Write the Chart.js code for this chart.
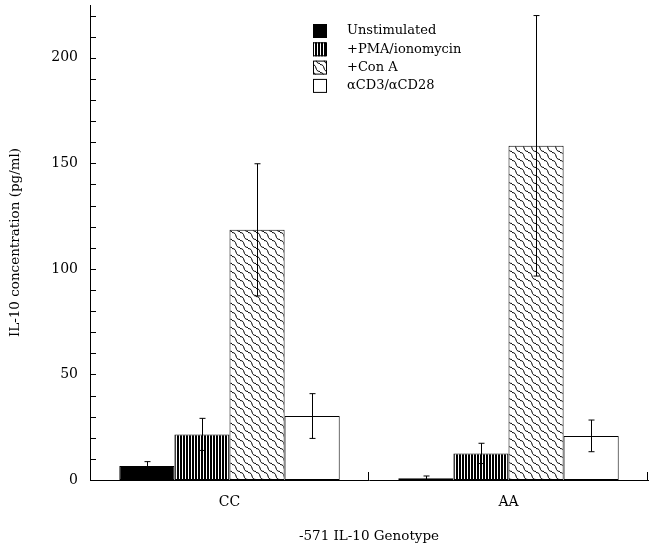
<!DOCTYPE html>
<html>
<head>
<meta charset="utf-8">
<script src="https://cdn.jsdelivr.net/npm/chart.js@4/dist/chart.umd.min.js"></script>
<style>
	body { margin: 0; background: #fff; }
</style>
</head>
<body>
<canvas id="il10-chart" width="653" height="549"></canvas>
<script>
var categories = ['CC', 'AA'];
var seriesNames = ['Unstimulated', '+PMA/ionomycin', '+Con A', '\u03b1CD3/\u03b1CD28'];

var unstimulated = [6.6, 0.8];
var unstimulatedErr = [2.1, 1.1];
var pmaIono = [21.6, 12.6];
var pmaIonoErr = [7.6, 4.8];
var conA = [118.5, 158.3];
var conAErr = [31.3, 61.7];
var cd3cd28 = [30.3, 20.9];
var cd3cd28Err = [10.6, 7.5];

var yTickLabels = [0, 50, 100, 150, 200];
var yMinorStep = 10;
var yMax = 225;

var FONT = "'DejaVu Serif', serif";

function makePattern(w, h, draw) {
	var c = document.createElement('canvas');
	c.width = w;
	c.height = h;
	var g = c.getContext('2d');
	g.fillStyle = '#fff';
	g.fillRect(0, 0, w, h);
	draw(g);
	return document.getElementById('il10-chart').getContext('2d').createPattern(c, 'repeat');
}

// vertical stripes, ~3px period
var stripes = makePattern(3, 3, function (g) {
	g.fillStyle = '#000';
	g.fillRect(0, 0, 2, 3);
});

// wavy "scale" hatch
var scales = makePattern(8, 8, function (g) {
	g.strokeStyle = '#000';
	g.lineWidth = 1;
	[-8, 0, 8].forEach(function (dx) {
		g.beginPath();
		g.moveTo(dx, 0.5);
		g.bezierCurveTo(dx + 6, 0.5, dx + 2, 7.5, dx + 8, 7.5);
		g.stroke();
	});
});

function mkSet(label, data, err, fill) {
	return {
		label: label,
		data: data,
		errors: err,
		backgroundColor: fill,
		borderColor: '#000',
		borderWidth: 1,
		borderSkipped: false,
		categoryPercentage: 0.79,
		barPercentage: 1.0
	};
}

var errorBars = {
	id: 'errorBars',
	afterDatasetsDraw: function (chart) {
		var ctx = chart.ctx,
			y = chart.scales.y;
		ctx.save();
		ctx.strokeStyle = '#000';
		ctx.lineWidth = 1;
		chart.data.datasets.forEach(function (ds, i) {
			var meta = chart.getDatasetMeta(i);
			meta.data.forEach(function (bar, j) {
				var v = ds.data[j],
					e = ds.errors[j],
					x = Math.round(bar.x) + 0.5,
					top = y.getPixelForValue(v + e),
					bot = y.getPixelForValue(Math.max(v - e, 0));
				ctx.beginPath();
				ctx.moveTo(x, top);
				ctx.lineTo(x, bot);
				ctx.moveTo(x - 3, top);
				ctx.lineTo(x + 3, top);
				ctx.moveTo(x - 3, bot);
				ctx.lineTo(x + 3, bot);
				ctx.stroke();
			});
		});
		ctx.restore();
	}
};

var axisTicks = {
	id: 'axisTicks',
	afterDraw: function (chart) {
		var ctx = chart.ctx,
			area = chart.chartArea,
			x = chart.scales.x,
			y = chart.scales.y;
		ctx.save();
		ctx.strokeStyle = '#000';
		ctx.lineWidth = 1;
		ctx.beginPath();
		for (var v = 0; v <= yMax; v += yMinorStep) {
			var py = Math.round(y.getPixelForValue(v)) + 0.5;
			ctx.moveTo(area.left, py);
			ctx.lineTo(area.left + 6, py);
		}
		var step = x.getPixelForValue(1) - x.getPixelForValue(0);
		for (var k = 0; k < categories.length; k++) {
			var px = Math.round(x.getPixelForValue(k) + step / 2) - 0.5;
			ctx.moveTo(px, area.bottom);
			ctx.lineTo(px, area.bottom - 8);
		}
		ctx.stroke();
		ctx.restore();
	}
};

var boxLegend = {
	id: 'boxLegend',
	afterDraw: function (chart) {
		var ctx = chart.ctx;
		ctx.save();
		ctx.font = '13px ' + FONT;
		ctx.textBaseline = 'middle';
		chart.data.datasets.forEach(function (ds, i) {
			var cy = 31 + i * 18.3;
			ctx.fillStyle = ds.backgroundColor;
			ctx.fillRect(313, cy - 7, 14, 14);
			ctx.strokeStyle = '#000';
			ctx.lineWidth = 1;
			ctx.strokeRect(313.5, cy - 6.5, 13, 13);
			ctx.fillStyle = '#000';
			ctx.fillText(ds.label, 347, cy);
		});
		ctx.restore();
	}
};

var ctxB = document.getElementById('il10-chart').getContext('2d');
var myBarChart = new Chart(ctxB, {
	type: 'bar',
	data: {
		labels: categories,
		datasets: [
			mkSet(seriesNames[0], unstimulated, unstimulatedErr, '#000'),
			mkSet(seriesNames[1], pmaIono, pmaIonoErr, stripes),
			mkSet(seriesNames[2], conA, conAErr, scales),
			mkSet(seriesNames[3], cd3cd28, cd3cd28Err, '#fff')
		]
	},
	plugins: [errorBars, axisTicks, boxLegend],
	options: {
		responsive: false,
		animation: false,
		layout: { padding: { top: 5, right: 5, left: 0, bottom: 0 } },
		plugins: {
			legend: { display: false },
			tooltip: { enabled: false }
		},
		scales: {
			x: {
				grid: { display: false, drawTicks: false },
				border: { display: true, color: '#000', width: 1 },
				ticks: { color: '#000', font: { family: FONT, size: 14 }, padding: 14 },
				title: {
					display: true,
					text: '-571 IL-10 Genotype',
					color: '#000',
					font: { family: FONT, size: 13.5 },
					padding: { top: 0, bottom: 4 }
				},
				afterFit: function (scale) {
					scale.height = 69;
					scale.paddingLeft = 0;
					scale.paddingRight = 0;
				}
			},
			y: {
				min: 0,
				max: yMax,
				grid: { display: false, drawTicks: false },
				border: { display: true, color: '#000', width: 1 },
				afterBuildTicks: function (scale) {
					scale.ticks = yTickLabels.map(function (v) { return { value: v }; });
				},
				ticks: { color: '#000', font: { family: FONT, size: 14 }, padding: 12 },
				title: {
					display: true,
					text: 'IL-10 concentration (pg/ml)',
					color: '#000',
					font: { family: FONT, size: 13.5 },
					padding: { top: 7, bottom: 0 }
				},
				afterFit: function (scale) {
					scale.width = 90;
					scale.paddingTop = 0;
					scale.paddingBottom = 0;
				}
			}
		}
	}
});
</script>
</body>
</html>
